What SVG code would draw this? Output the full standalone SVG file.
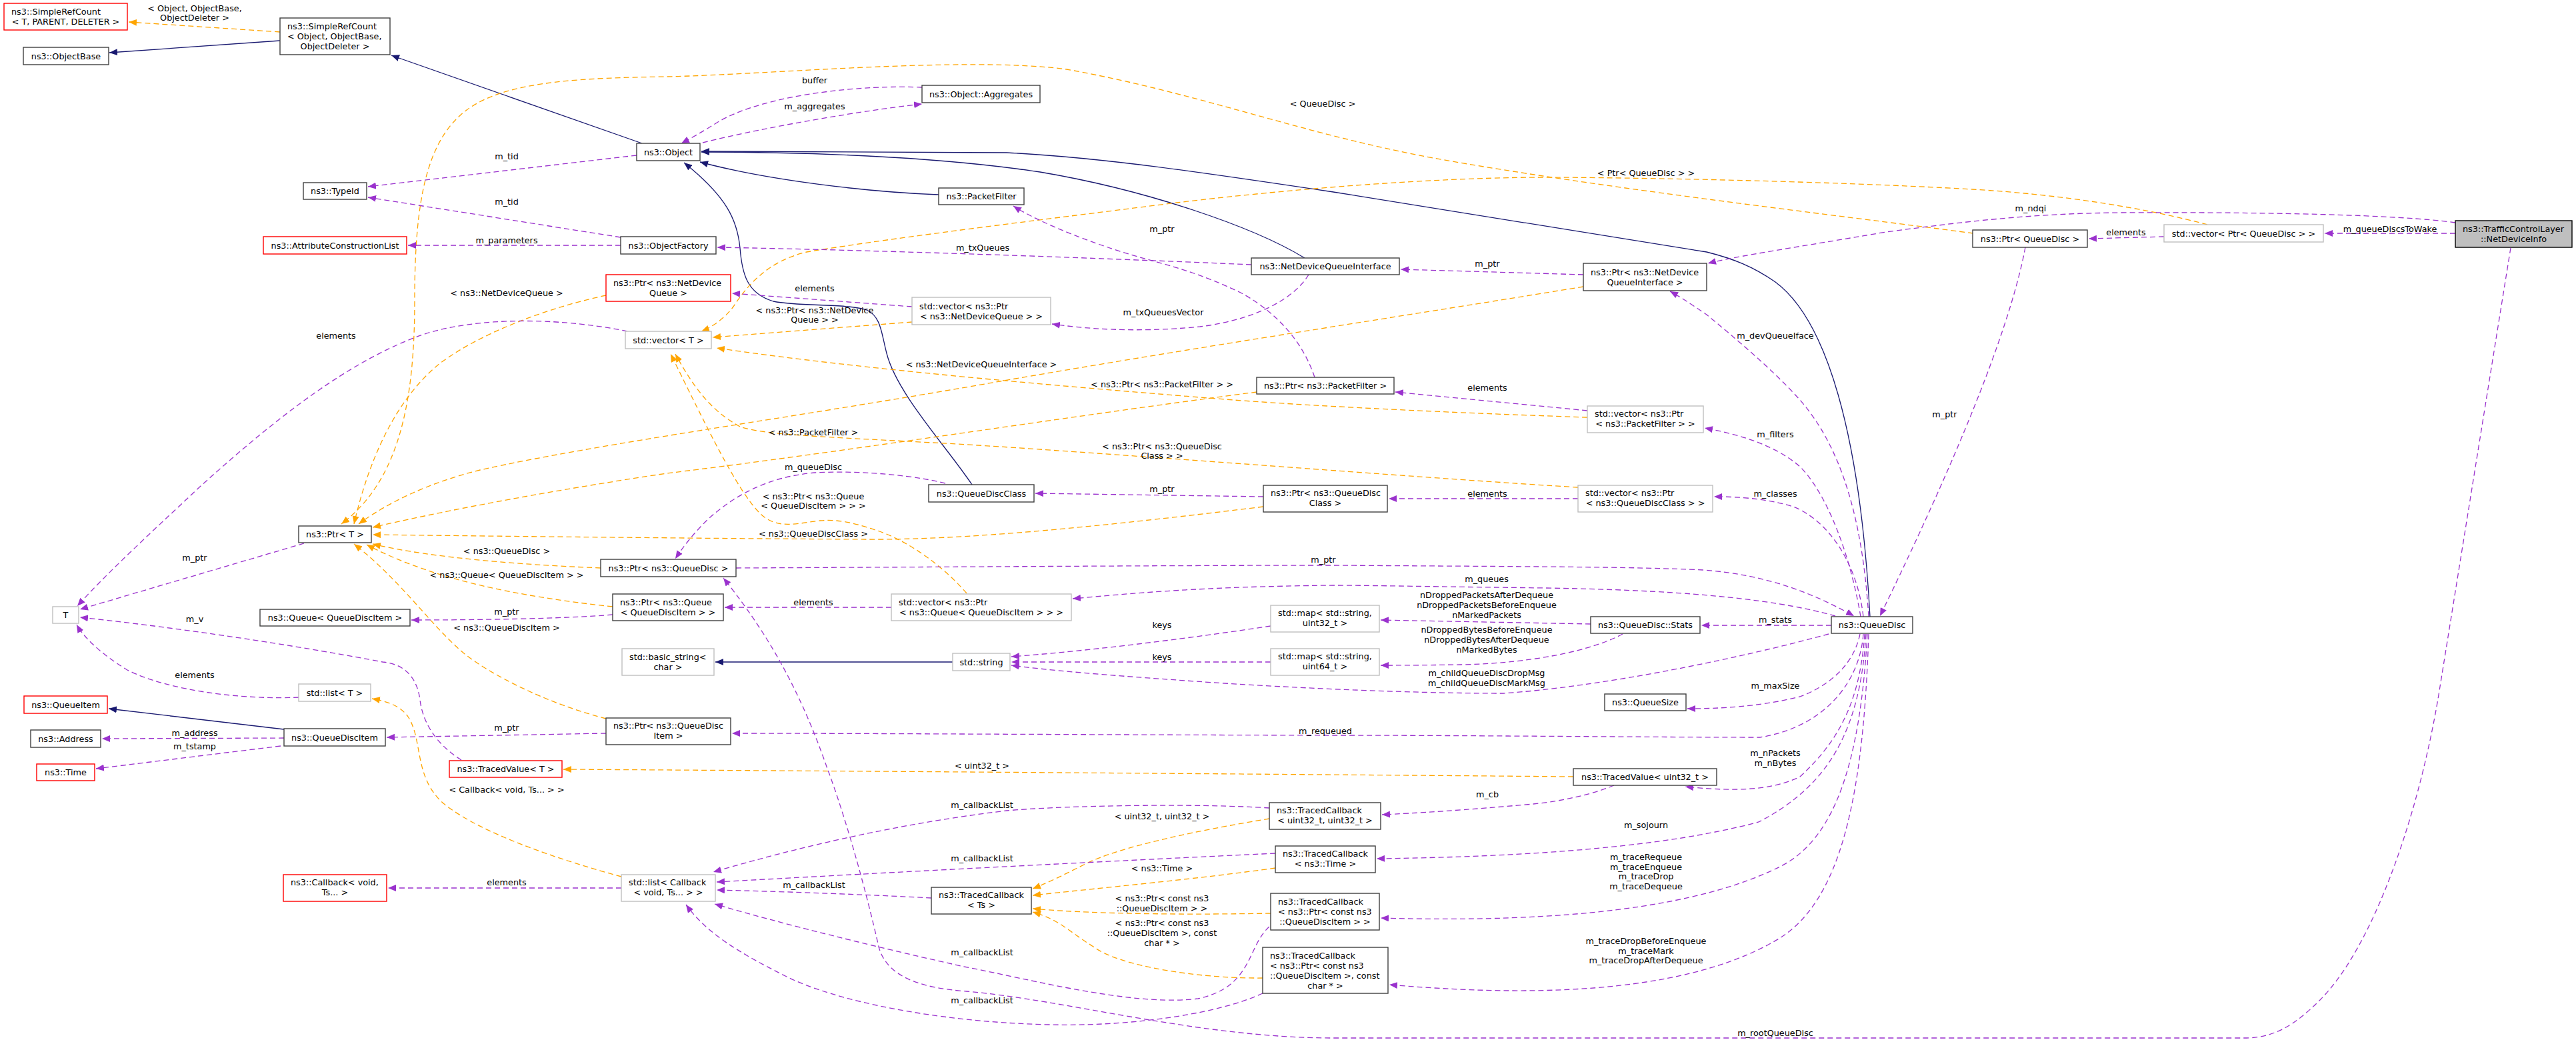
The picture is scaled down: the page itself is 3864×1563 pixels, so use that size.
<svg xmlns="http://www.w3.org/2000/svg" width="3864" height="1563" viewBox="0 0 3864 1563">
<style>
.nd rect{fill:#fff;stroke:#404040;stroke-width:1.4}
.nd.red rect{stroke:#ff0000}
.nd.ext rect{stroke:#bfbfbf}
.nd.root rect{fill:#bfbfbf;stroke:#000}
text{font-family:"DejaVu Sans",sans-serif;font-size:12.8px;fill:#000}
.c{text-anchor:middle}
.l{text-anchor:start}
#edges path{fill:none;stroke-width:1.3}
.u{stroke:#9a32cd;stroke-dasharray:8,5;marker-end:url(#mu)}
.t{stroke:#ffa500;stroke-dasharray:8,5;marker-end:url(#mt)}
.i{stroke:#191970;marker-end:url(#mi)}
</style>
<defs>
<marker id="mu" viewBox="0 0 12 10" refX="12" refY="5" markerWidth="12" markerHeight="10" markerUnits="userSpaceOnUse" orient="auto"><path d="M0,0 L12,5 L0,10 z" fill="#9a32cd"/></marker>
<marker id="mt" viewBox="0 0 12 10" refX="12" refY="5" markerWidth="12" markerHeight="10" markerUnits="userSpaceOnUse" orient="auto"><path d="M0,0 L12,5 L0,10 z" fill="#ffa500"/></marker>
<marker id="mi" viewBox="0 0 12 10" refX="12" refY="5" markerWidth="12" markerHeight="10" markerUnits="userSpaceOnUse" orient="auto"><path d="M0,0 L12,5 L0,10 z" fill="#191970"/></marker>
</defs>
<rect x="0" y="0" width="3864" height="1563" fill="#fff"/>
<g id="edges">
<!-- inheritance -->
<path class="i" d="M420,61 L164,79"/>
<path class="i" d="M963,215 L587,83"/>
<path class="i" d="M1408,292 C1300,288 1150,270 1050,243"/>
<path class="i" d="M1957,387 C1880,340 1720,285 1560,258 C1400,234 1200,228 1052,228"/>
<path class="i" d="M2805,925 C2790,650 2740,480 2663,423 C2630,400 2600,388 2560,378 L2000,288 C1800,258 1650,236 1510,229 L1052,227"/>
<path class="i" d="M1458,727 C1420,670 1345,590 1330,530 C1322,500 1322,475 1300,465 C1270,455 1200,460 1160,452 C1120,440 1113,410 1110,372 C1106,330 1090,295 1026,244"/>
<path class="i" d="M426,1094 L163,1063"/>
<path class="i" d="M1429,993 L1073,993"/>
<!-- template instances -->
<path class="t" d="M420,48 L193,33"/>
<path class="t" d="M2960,350 C2750,322 2400,282 2150,237 C1950,200 1800,140 1600,104 C1450,84 1150,112 1000,115 C880,117 760,120 700,165 C640,210 622,300 622,450 C622,600 600,720 512,786"/>
<path class="t" d="M909,443 C820,462 720,500 660,545 C610,585 560,660 531,786"/>
<path class="t" d="M2375,430 C2100,475 1800,520 1500,572 C1200,625 900,665 720,705 C640,725 580,755 538,786"/>
<path class="t" d="M1885,588 C1600,625 1250,680 1000,710 C800,740 650,770 559,791"/>
<path class="t" d="M1895,760 C1650,790 1450,810 1300,809 C1100,808 800,805 559,802"/>
<path class="t" d="M901,852 C800,848 650,838 559,816"/>
<path class="t" d="M919,910 C780,895 650,870 550,817"/>
<path class="t" d="M909,1078 C820,1055 730,1010 690,975 C640,930 600,870 531,816"/>
<path class="t" d="M1368,483 L1069,506"/>
<path class="t" d="M3311,337 C3230,315 3100,292 2959,284 C2750,272 2450,266 2306,266 C2150,267 1950,282 1765,304 C1600,325 1350,355 1210,378 C1150,392 1120,430 1100,460 C1085,480 1065,492 1052,497"/>
<path class="t" d="M2381,626 C2200,620 2000,611 1850,600 C1600,580 1300,555 1075,522"/>
<path class="t" d="M2367,731 C2150,718 1800,690 1500,670 C1300,657 1150,655 1110,640 C1065,615 1040,580 1013,531"/>
<path class="t" d="M1450,890 C1420,855 1370,815 1319,797 C1290,787 1260,778 1230,781 C1195,785 1165,795 1140,770 C1105,735 1060,640 1006,531"/>
<path class="t" d="M932,1315 C840,1290 720,1250 665,1205 C620,1165 635,1110 612,1075 C600,1058 580,1052 558,1048"/>
<path class="t" d="M2360,1165 C2000,1162 1500,1158 845,1154"/>
<path class="t" d="M1904,1228 C1800,1245 1680,1270 1630,1295 C1590,1315 1570,1325 1549,1333"/>
<path class="t" d="M1913,1302 C1800,1318 1650,1332 1549,1343"/>
<path class="t" d="M1906,1370 C1800,1372 1650,1372 1549,1363"/>
<path class="t" d="M1894,1467 C1800,1468 1680,1450 1640,1420 C1600,1395 1590,1380 1549,1368"/>
<!-- usage -->
<path class="u" d="M1383,131 C1300,127 1150,140 1077,183 C1050,200 1035,208 1022,215"/>
<path class="u" d="M1054,214 C1150,190 1300,165 1383,156"/>
<path class="u" d="M955,233 L552,280"/>
<path class="u" d="M931,356 L552,296"/>
<path class="u" d="M931,368 L612,368"/>
<path class="u" d="M1877,397 C1600,385 1300,375 1076,371"/>
<path class="u" d="M1963,412 C1940,450 1880,480 1800,490 C1700,500 1620,492 1578,486"/>
<path class="u" d="M1368,460 L1098,440"/>
<path class="u" d="M2375,412 L2101,404"/>
<path class="u" d="M3683,334 C3600,322 3400,318 3183,319 C3050,320 2950,332 2829,348 C2700,370 2600,385 2562,395"/>
<path class="u" d="M3683,350 L3487,350"/>
<path class="u" d="M3246,355 L3133,358"/>
<path class="u" d="M3038,371 C3010,520 2900,760 2820,924"/>
<path class="u" d="M3766,372 L3660,1030 C3630,1220 3560,1420 3480,1500 C3440,1540 3410,1556 3370,1557 L2000,1557 C1800,1557 1600,1500 1450,1487 C1380,1482 1330,1465 1318,1420 C1300,1340 1270,1230 1240,1150 C1205,1050 1160,960 1085,867"/>
<path class="u" d="M1418,725 C1380,715 1300,705 1223,709 C1150,715 1100,745 1064,777 C1040,800 1025,820 1013,838"/>
<path class="u" d="M1895,745 L1553,740"/>
<path class="u" d="M2367,748 L2083,748"/>
<path class="u" d="M2381,616 L2093,588"/>
<path class="u" d="M1972,566 C1950,500 1900,460 1861,439 C1800,410 1760,400 1721,389 C1650,370 1560,335 1520,309"/>
<path class="u" d="M1337,911 L1087,911"/>
<path class="u" d="M919,922 C850,928 720,930 617,930"/>
<path class="u" d="M456,815 L120,914"/>
<path class="u" d="M941,497 C870,482 740,470 640,500 C520,540 400,640 300,730 C220,805 160,860 116,909"/>
<path class="u" d="M448,1046 C360,1050 250,1035 191,1005 C150,980 125,955 115,937"/>
<path class="u" d="M692,1140 C660,1120 635,1090 630,1050 C625,1010 600,995 574,993 C480,975 300,945 120,926"/>
<path class="u" d="M426,1107 L153,1108"/>
<path class="u" d="M421,1119 L144,1153"/>
<path class="u" d="M909,1100 L580,1106"/>
<path class="u" d="M932,1332 L582,1332"/>
<path class="u" d="M1104,852 C1500,850 1800,848 2000,848 C2300,850 2450,850 2555,855 C2650,862 2720,890 2781,924"/>
<path class="u" d="M2791,925 C2775,830 2740,740 2700,700 C2660,665 2600,650 2557,642"/>
<path class="u" d="M2795,925 C2785,840 2740,780 2690,760 C2650,748 2610,745 2571,745"/>
<path class="u" d="M2803,925 C2795,800 2770,680 2700,600 C2660,555 2600,505 2560,472 C2535,455 2520,445 2505,437"/>
<path class="u" d="M2753,924 C2650,895 2500,885 2319,882 C2150,880 2050,878 2000,878 C1800,880 1700,890 1609,898"/>
<path class="u" d="M2747,938 L2552,938"/>
<path class="u" d="M2386,936 L2071,930"/>
<path class="u" d="M2434,951 C2390,975 2300,995 2191,997 C2120,998 2090,998 2071,998"/>
<path class="u" d="M1906,939 C1800,955 1650,975 1517,985"/>
<path class="u" d="M1906,993 L1517,993"/>
<path class="u" d="M2743,951 C2600,990 2400,1030 2255,1040 C2100,1040 1900,1030 1765,1020 C1650,1012 1570,1005 1517,998"/>
<path class="u" d="M2790,951 C2780,1000 2740,1030 2700,1045 C2640,1060 2580,1063 2531,1063"/>
<path class="u" d="M2795,951 C2790,1020 2740,1090 2640,1106 C2500,1106 2200,1103 2000,1103 C1600,1102 1300,1100 1098,1100"/>
<path class="u" d="M2797,951 C2790,1050 2760,1110 2700,1165 C2650,1190 2580,1185 2528,1180"/>
<path class="u" d="M2421,1178 C2380,1195 2330,1203 2300,1206 C2200,1215 2120,1220 2073,1222"/>
<path class="u" d="M2799,951 C2790,1100 2740,1180 2638,1233 C2500,1270 2300,1285 2065,1288"/>
<path class="u" d="M2801,951 C2790,1150 2750,1260 2670,1300 C2550,1360 2350,1385 2071,1377"/>
<path class="u" d="M2803,951 C2795,1200 2760,1350 2670,1407 C2550,1480 2350,1500 2084,1477"/>
<path class="u" d="M1904,1212 C1800,1205 1600,1208 1510,1216 C1350,1235 1200,1270 1070,1308"/>
<path class="u" d="M1913,1280 C1700,1290 1400,1305 1075,1323"/>
<path class="u" d="M1397,1347 C1300,1342 1200,1338 1075,1335"/>
<path class="u" d="M1904,1390 C1870,1420 1880,1480 1797,1498 C1700,1510 1550,1470 1446,1450 C1320,1422 1170,1385 1072,1356"/>
<path class="u" d="M1894,1490 C1830,1520 1700,1540 1574,1537 C1400,1533 1250,1500 1180,1465 C1110,1430 1060,1400 1029,1357"/>
<!-- edge labels -->
<text class="c" x="292" y="16.5">&lt; Object, ObjectBase,</text>
<text class="c" x="292" y="31">ObjectDeleter &gt;</text>
<text class="c" x="760" y="238.5">m_tid</text>
<text class="c" x="760" y="306.5">m_tid</text>
<text class="c" x="760" y="364.5">m_parameters</text>
<text class="c" x="760" y="443.5">&lt; ns3::NetDeviceQueue &gt;</text>
<text class="c" x="504" y="507.5">elements</text>
<text class="c" x="1222" y="124.5">buffer</text>
<text class="c" x="1222" y="163.5">m_aggregates</text>
<text class="c" x="1743" y="347.5">m_ptr</text>
<text class="c" x="1474" y="375.5">m_txQueues</text>
<text class="c" x="1222" y="436.5">elements</text>
<text class="c" x="1222" y="469.5">&lt; ns3::Ptr&lt; ns3::NetDevice</text>
<text class="c" x="1222" y="483.5">Queue &gt; &gt;</text>
<text class="c" x="1745" y="472.5">m_txQueuesVector</text>
<text class="c" x="1984" y="159.5">&lt; QueueDisc &gt;</text>
<text class="c" x="2469" y="263.5">&lt; Ptr&lt; QueueDisc &gt; &gt;</text>
<text class="c" x="2231" y="399.5">m_ptr</text>
<text class="c" x="2663" y="507.5">m_devQueueIface</text>
<text class="c" x="3046" y="316.5">m_ndqi</text>
<text class="c" x="3189" y="352.5">elements</text>
<text class="c" x="3585" y="347.5">m_queueDiscsToWake</text>
<text class="c" x="292" y="840.5">m_ptr</text>
<text class="c" x="760" y="830.5">&lt; ns3::QueueDisc &gt;</text>
<text class="c" x="760" y="866.5">&lt; ns3::Queue&lt; QueueDiscItem &gt; &gt;</text>
<text class="c" x="760" y="921.5">m_ptr</text>
<text class="c" x="760" y="945.5">&lt; ns3::QueueDiscItem &gt;</text>
<text class="c" x="292" y="932.5">m_v</text>
<text class="c" x="292" y="1016.5">elements</text>
<text class="c" x="1472" y="550.5">&lt; ns3::NetDeviceQueueInterface &gt;</text>
<text class="c" x="1743" y="580.5">&lt; ns3::Ptr&lt; ns3::PacketFilter &gt; &gt;</text>
<text class="c" x="1220" y="652.5">&lt; ns3::PacketFilter &gt;</text>
<text class="c" x="1743" y="673.5">&lt; ns3::Ptr&lt; ns3::QueueDisc</text>
<text class="c" x="1743" y="688">Class &gt; &gt;</text>
<text class="c" x="1220" y="704.5">m_queueDisc</text>
<text class="c" x="1220" y="748.5">&lt; ns3::Ptr&lt; ns3::Queue</text>
<text class="c" x="1220" y="763">&lt; QueueDiscItem &gt; &gt; &gt;</text>
<text class="c" x="1743" y="737.5">m_ptr</text>
<text class="c" x="1220" y="804.5">&lt; ns3::QueueDiscClass &gt;</text>
<text class="c" x="1985" y="843.5">m_ptr</text>
<text class="c" x="1220" y="907.5">elements</text>
<text class="c" x="1743" y="941.5">keys</text>
<text class="c" x="1743" y="989.5">keys</text>
<text class="c" x="2231" y="585.5">elements</text>
<text class="c" x="2663" y="655.5">m_filters</text>
<text class="c" x="2917" y="625.5">m_ptr</text>
<text class="c" x="2231" y="744.5">elements</text>
<text class="c" x="2663" y="744.5">m_classes</text>
<text class="c" x="2230" y="872.5">m_queues</text>
<text class="c" x="2230" y="896.5">nDroppedPacketsAfterDequeue</text>
<text class="c" x="2230" y="911.5">nDroppedPacketsBeforeEnqueue</text>
<text class="c" x="2230" y="926.5">nMarkedPackets</text>
<text class="c" x="2663" y="933.5">m_stats</text>
<text class="c" x="2230" y="948.5">nDroppedBytesBeforeEnqueue</text>
<text class="c" x="2230" y="963.5">nDroppedBytesAfterDequeue</text>
<text class="c" x="2230" y="978.5">nMarkedBytes</text>
<text class="c" x="2230" y="1013.5">m_childQueueDiscDropMsg</text>
<text class="c" x="2230" y="1028.5">m_childQueueDiscMarkMsg</text>
<text class="c" x="2663" y="1032.5">m_maxSize</text>
<text class="c" x="292" y="1103.5">m_address</text>
<text class="c" x="292" y="1123.5">m_tstamp</text>
<text class="c" x="760" y="1095.5">m_ptr</text>
<text class="c" x="760" y="1188.5">&lt; Callback&lt; void, Ts... &gt; &gt;</text>
<text class="c" x="760" y="1327.5">elements</text>
<text class="c" x="1988" y="1100.5">m_requeued</text>
<text class="c" x="1473" y="1152.5">&lt; uint32_t &gt;</text>
<text class="c" x="1473" y="1211.5">m_callbackList</text>
<text class="c" x="1743" y="1228.5">&lt; uint32_t, uint32_t &gt;</text>
<text class="c" x="1473" y="1291.5">m_callbackList</text>
<text class="c" x="1743" y="1306.5">&lt; ns3::Time &gt;</text>
<text class="c" x="1221" y="1331.5">m_callbackList</text>
<text class="c" x="1743" y="1351.5">&lt; ns3::Ptr&lt; const ns3</text>
<text class="c" x="1743" y="1366.5">::QueueDiscItem &gt; &gt;</text>
<text class="c" x="1743" y="1388.5">&lt; ns3::Ptr&lt; const ns3</text>
<text class="c" x="1743" y="1403.5">::QueueDiscItem &gt;, const</text>
<text class="c" x="1743" y="1418.5">char * &gt;</text>
<text class="c" x="1473" y="1432.5">m_callbackList</text>
<text class="c" x="1473" y="1504.5">m_callbackList</text>
<text class="c" x="2663" y="1133.5">m_nPackets</text>
<text class="c" x="2663" y="1148.5">m_nBytes</text>
<text class="c" x="2231" y="1195.5">m_cb</text>
<text class="c" x="2469" y="1241.5">m_sojourn</text>
<text class="c" x="2469" y="1289.5">m_traceRequeue</text>
<text class="c" x="2469" y="1304.5">m_traceEnqueue</text>
<text class="c" x="2469" y="1318.5">m_traceDrop</text>
<text class="c" x="2469" y="1333.5">m_traceDequeue</text>
<text class="c" x="2469" y="1415.5">m_traceDropBeforeEnqueue</text>
<text class="c" x="2469" y="1430.5">m_traceMark</text>
<text class="c" x="2469" y="1444.5">m_traceDropAfterDequeue</text>
<text class="c" x="2663" y="1553.5">m_rootQueueDisc</text>
</g>
<g id="srcT" class="nd red"><rect x="6" y="5" width="185" height="40"/><text class="l" x="17" y="22">ns3::SimpleRefCount</text><text class="c" x="98.5" y="37">&lt; T, PARENT, DELETER &gt;</text></g>
<g id="objectBase" class="nd"><rect x="35" y="71" width="128" height="26"/><text class="c" x="99" y="88.5">ns3::ObjectBase</text></g>
<g id="srcObj" class="nd"><rect x="420" y="27" width="165" height="55"/><text class="l" x="431" y="44">ns3::SimpleRefCount</text><text class="l" x="431" y="59">&lt; Object, ObjectBase,</text><text class="c" x="502.5" y="74">ObjectDeleter &gt;</text></g>
<g id="typeId" class="nd"><rect x="455" y="274" width="95" height="25"/><text class="c" x="502.5" y="291">ns3::TypeId</text></g>
<g id="attrList" class="nd red"><rect x="395" y="355" width="215" height="26"/><text class="c" x="502.5" y="372.5">ns3::AttributeConstructionList</text></g>
<g id="object" class="nd"><rect x="955" y="215" width="95" height="26"/><text class="c" x="1002.5" y="232.5">ns3::Object</text></g>
<g id="objectFactory" class="nd"><rect x="931" y="355" width="143" height="26"/><text class="c" x="1002.5" y="372.5">ns3::ObjectFactory</text></g>
<g id="ptrNDQ" class="nd red"><rect x="909" y="412" width="187" height="40"/><text class="l" x="920" y="429">ns3::Ptr&lt; ns3::NetDevice</text><text class="c" x="1002.5" y="444">Queue &gt;</text></g>
<g id="vectorT" class="nd ext"><rect x="938" y="497" width="129" height="26"/><text class="c" x="1002.5" y="514.5">std::vector&lt; T &gt;</text></g>
<g id="aggregates" class="nd"><rect x="1383" y="128" width="177" height="26"/><text class="c" x="1471.5" y="145.5">ns3::Object::Aggregates</text></g>
<g id="packetFilter" class="nd"><rect x="1408" y="282" width="128" height="25"/><text class="c" x="1472" y="299">ns3::PacketFilter</text></g>
<g id="vecPtrNDQ" class="nd ext"><rect x="1368" y="446" width="208" height="41"/><text class="l" x="1379" y="463.5">std::vector&lt; ns3::Ptr</text><text class="c" x="1472" y="478.5">&lt; ns3::NetDeviceQueue &gt; &gt;</text></g>
<g id="ndqi" class="nd"><rect x="1877" y="387" width="222" height="25"/><text class="c" x="1988" y="404">ns3::NetDeviceQueueInterface</text></g>
<g id="ptrNDQI" class="nd"><rect x="2375" y="395" width="185" height="41"/><text class="l" x="2386" y="412.5">ns3::Ptr&lt; ns3::NetDevice</text><text class="c" x="2467.5" y="427.5">QueueInterface &gt;</text></g>
<g id="ptrQueueDiscB" class="nd"><rect x="2959" y="345" width="172" height="26"/><text class="c" x="3045" y="362.5">ns3::Ptr&lt; QueueDisc &gt;</text></g>
<g id="vecPtrQD" class="nd ext"><rect x="3246" y="337" width="239" height="26"/><text class="c" x="3365.5" y="354.5">std::vector&lt; Ptr&lt; QueueDisc &gt; &gt;</text></g>
<g id="tcl" class="nd root"><rect x="3683" y="331" width="175" height="40"/><text class="l" x="3694" y="348">ns3::TrafficControlLayer</text><text class="c" x="3770.5" y="363">::NetDeviceInfo</text></g>
<g id="ptrT" class="nd"><rect x="448" y="789" width="109" height="25"/><text class="c" x="502.5" y="806">ns3::Ptr&lt; T &gt;</text></g>
<g id="T" class="nd ext"><rect x="79" y="910" width="39" height="25"/><text class="c" x="98.5" y="927">T</text></g>
<g id="queueQDI" class="nd"><rect x="390" y="914" width="225" height="25"/><text class="c" x="502.5" y="931">ns3::Queue&lt; QueueDiscItem &gt;</text></g>
<g id="listT" class="nd ext"><rect x="448" y="1026" width="108" height="26"/><text class="c" x="502" y="1043.5">std::list&lt; T &gt;</text></g>
<g id="ptrQD" class="nd"><rect x="901" y="839" width="203" height="26"/><text class="c" x="1002.5" y="856.5">ns3::Ptr&lt; ns3::QueueDisc &gt;</text></g>
<g id="ptrQueue" class="nd"><rect x="919" y="891" width="166" height="40"/><text class="l" x="930" y="908">ns3::Ptr&lt; ns3::Queue</text><text class="c" x="1002" y="923">&lt; QueueDiscItem &gt; &gt;</text></g>
<g id="basicString" class="nd ext"><rect x="933" y="973" width="138" height="40"/><text class="l" x="944" y="990">std::basic_string&lt;</text><text class="c" x="1002" y="1005">char &gt;</text></g>
<g id="stdString" class="nd ext"><rect x="1429" y="980" width="86" height="26"/><text class="c" x="1472" y="997.5">std::string</text></g>
<g id="qdc" class="nd"><rect x="1393" y="727" width="158" height="26"/><text class="c" x="1472" y="744.5">ns3::QueueDiscClass</text></g>
<g id="vecPtrQueue" class="nd ext"><rect x="1337" y="891" width="270" height="40"/><text class="l" x="1348" y="908">std::vector&lt; ns3::Ptr</text><text class="c" x="1472" y="923">&lt; ns3::Queue&lt; QueueDiscItem &gt; &gt; &gt;</text></g>
<g id="ptrPF" class="nd"><rect x="1885" y="566" width="206" height="25"/><text class="c" x="1988" y="583">ns3::Ptr&lt; ns3::PacketFilter &gt;</text></g>
<g id="ptrQDC" class="nd"><rect x="1895" y="728" width="186" height="40"/><text class="l" x="1906" y="744">ns3::Ptr&lt; ns3::QueueDisc</text><text class="c" x="1988" y="759">Class &gt;</text></g>
<g id="mapU32" class="nd ext"><rect x="1906" y="908" width="163" height="40"/><text class="l" x="1917" y="924">std::map&lt; std::string,</text><text class="c" x="1987.5" y="939">uint32_t &gt;</text></g>
<g id="mapU64" class="nd ext"><rect x="1906" y="973" width="163" height="40"/><text class="l" x="1917" y="989">std::map&lt; std::string,</text><text class="c" x="1987.5" y="1004">uint64_t &gt;</text></g>
<g id="vecPtrPF" class="nd ext"><rect x="2381" y="609" width="174" height="40"/><text class="l" x="2392" y="625">std::vector&lt; ns3::Ptr</text><text class="c" x="2468" y="640">&lt; ns3::PacketFilter &gt; &gt;</text></g>
<g id="vecPtrQDC" class="nd ext"><rect x="2367" y="728" width="202" height="40"/><text class="l" x="2378" y="744">std::vector&lt; ns3::Ptr</text><text class="c" x="2468" y="759">&lt; ns3::QueueDiscClass &gt; &gt;</text></g>
<g id="stats" class="nd"><rect x="2386" y="925" width="164" height="25"/><text class="c" x="2468" y="942">ns3::QueueDisc::Stats</text></g>
<g id="queueDisc" class="nd"><rect x="2747" y="925" width="122" height="25"/><text class="c" x="2808" y="942">ns3::QueueDisc</text></g>
<g id="queueSize" class="nd"><rect x="2407" y="1041" width="122" height="25"/><text class="c" x="2468" y="1058">ns3::QueueSize</text></g>
<g id="queueItem" class="nd red"><rect x="36" y="1044" width="125" height="26"/><text class="c" x="98.5" y="1061.5">ns3::QueueItem</text></g>
<g id="address" class="nd"><rect x="46" y="1095" width="105" height="26"/><text class="c" x="98.5" y="1112.5">ns3::Address</text></g>
<g id="time" class="nd red"><rect x="55" y="1146" width="87" height="25"/><text class="c" x="98.5" y="1163">ns3::Time</text></g>
<g id="qdi" class="nd"><rect x="426" y="1093" width="152" height="26"/><text class="c" x="502" y="1110.5">ns3::QueueDiscItem</text></g>
<g id="tracedValueT" class="nd red"><rect x="674" y="1141" width="169" height="25"/><text class="c" x="758.5" y="1158">ns3::TracedValue&lt; T &gt;</text></g>
<g id="callback" class="nd red"><rect x="425" y="1312" width="155" height="40"/><text class="l" x="436" y="1328">ns3::Callback&lt; void,</text><text class="c" x="502.5" y="1343">Ts... &gt;</text></g>
<g id="ptrQDI" class="nd"><rect x="909" y="1077" width="187" height="40"/><text class="l" x="920" y="1093">ns3::Ptr&lt; ns3::QueueDisc</text><text class="c" x="1002.5" y="1108">Item &gt;</text></g>
<g id="listCallback" class="nd ext"><rect x="932" y="1312" width="141" height="40"/><text class="l" x="943" y="1328">std::list&lt; Callback</text><text class="c" x="1002.5" y="1343">&lt; void, Ts... &gt; &gt;</text></g>
<g id="tcTs" class="nd"><rect x="1397" y="1331" width="150" height="40"/><text class="l" x="1408" y="1347">ns3::TracedCallback</text><text class="c" x="1472" y="1362">&lt; Ts &gt;</text></g>
<g id="tcU32" class="nd"><rect x="1904" y="1204" width="167" height="40"/><text class="l" x="1915" y="1220">ns3::TracedCallback</text><text class="c" x="1987.5" y="1235">&lt; uint32_t, uint32_t &gt;</text></g>
<g id="tcTime" class="nd"><rect x="1913" y="1269" width="150" height="40"/><text class="l" x="1924" y="1285">ns3::TracedCallback</text><text class="c" x="1988" y="1300">&lt; ns3::Time &gt;</text></g>
<g id="tcPtr" class="nd"><rect x="1906" y="1340" width="163" height="55"/><text class="l" x="1917" y="1357">ns3::TracedCallback</text><text class="l" x="1917" y="1372">&lt; ns3::Ptr&lt; const ns3</text><text class="c" x="1987.5" y="1387">::QueueDiscItem &gt; &gt;</text></g>
<g id="tcPtrChar" class="nd"><rect x="1894" y="1421" width="188" height="69"/><text class="l" x="1905" y="1437.5">ns3::TracedCallback</text><text class="l" x="1905" y="1452.5">&lt; ns3::Ptr&lt; const ns3</text><text class="l" x="1905" y="1467.5">::QueueDiscItem &gt;, const</text><text class="c" x="1988" y="1482.5">char * &gt;</text></g>
<g id="tvU32" class="nd"><rect x="2360" y="1153" width="215" height="25"/><text class="c" x="2467.5" y="1170">ns3::TracedValue&lt; uint32_t &gt;</text></g>
</svg>
